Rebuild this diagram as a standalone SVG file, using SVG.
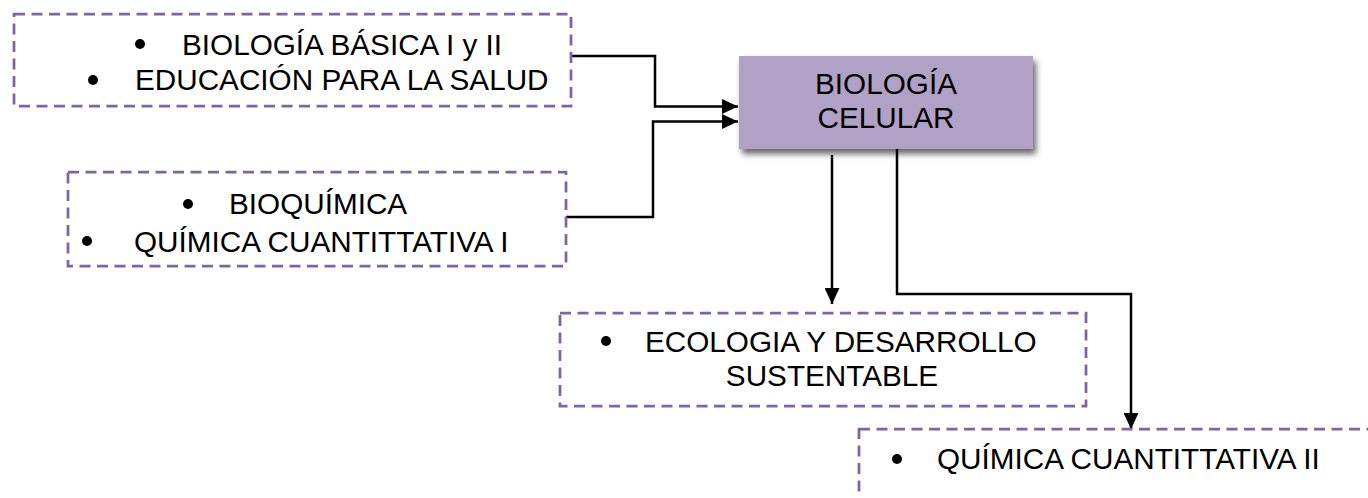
<svg xmlns="http://www.w3.org/2000/svg" width="1368" height="498" viewBox="0 0 1368 498">
<style>
.box{fill:#ffffff;stroke:#8064a2;stroke-width:2.75;stroke-dasharray:11 6.5}
.t{font-family:"Liberation Sans",Arial,sans-serif;font-size:29.7px;fill:#000}
.b{fill:#000}
.c{fill:none;stroke:#000;stroke-width:2.5}
</style>
<defs>
<filter id="sh" x="-10%" y="-20%" width="130%" height="150%">
<feDropShadow dx="3" dy="5" stdDeviation="3" flood-color="#000" flood-opacity="0.6"/>
</filter>
<marker id="ah" markerWidth="16" markerHeight="15" refX="16" refY="7.5" orient="auto" markerUnits="userSpaceOnUse">
<path d="M0,0 L16,7.5 L0,15 Z" fill="#000"/>
</marker>
</defs>
<g id="connectors">
<path class="c" d="M571,56 H655 V106.5 H738" marker-end="url(#ah)"/>
<path class="c" d="M566,217 H653 V121.5 H738" marker-end="url(#ah)"/>
<path class="c" d="M832,155 V304" marker-end="url(#ah)"/>
<path class="c" d="M897,149 V294 H1131 V429" marker-end="url(#ah)"/>
</g>
<g id="node-biologia-basica">
<rect class="box" x="14" y="14" width="557" height="92"/>
<circle class="b" cx="140" cy="44" r="5"/>
<text class="t" x="182" y="55">BIOLOGÍA BÁSICA I y II</text>
<circle class="b" cx="93" cy="80" r="5"/>
<text class="t" x="135" y="90">EDUCACIÓN PARA LA SALUD</text>
</g>
<g id="node-bioquimica">
<rect class="box" x="68" y="172" width="498" height="94"/>
<circle class="b" cx="188" cy="204" r="5"/>
<text class="t" x="229" y="214">BIOQUÍMICA</text>
<circle class="b" cx="87" cy="241" r="5"/>
<text class="t" x="134" y="251.5">QUÍMICA CUANTITTATIVA I</text>
</g>
<g id="node-biologia-celular">
<rect x="739" y="56" width="294" height="93" fill="#b2a1c7" filter="url(#sh)"/>
<text class="t" x="886" y="93.5" text-anchor="middle">BIOLOGÍA</text>
<text class="t" x="886" y="127.5" text-anchor="middle">CELULAR</text>
</g>
<g id="node-ecologia">
<rect class="box" x="560" y="313" width="526" height="93"/>
<circle class="b" cx="606" cy="341" r="5"/>
<text class="t" x="645" y="351.5">ECOLOGIA Y DESARROLLO</text>
<text class="t" x="832" y="386" text-anchor="middle">SUSTENTABLE</text>
</g>
<g id="node-quimica-ii">
<rect class="box" x="859" y="429" width="560" height="110"/>
<circle class="b" cx="897" cy="459" r="5"/>
<text class="t" x="937" y="468.5">QUÍMICA CUANTITTATIVA II</text>
</g>
</svg>
